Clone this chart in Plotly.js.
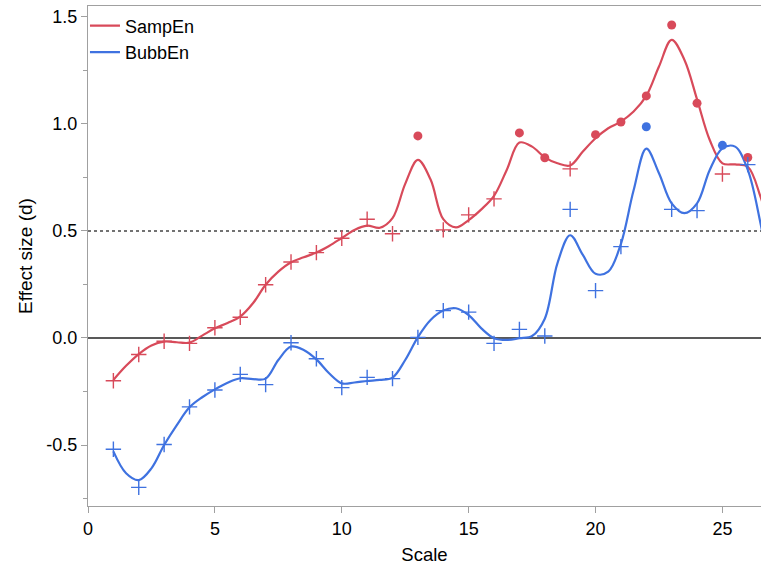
<!DOCTYPE html>
<html>
<head>
<meta charset="utf-8">
<script src="https://cdn.plot.ly/plotly-3.0.1.min.js"></script>
<style>
  html, body { margin: 0; padding: 0; background: #fff; }
  #chart { width: 761px; height: 567px; }
</style>
</head>
<body>
<div id="chart"></div>
<script>
// Effect size per scale for the two entropy measures
const scales = [1, 2, 3, 4, 5, 6, 7, 8, 9, 10, 11, 12, 13, 14, 15, 16, 17, 18, 19, 20, 21, 22, 23, 24, 25, 26];

const sampEn = [-0.200, -0.077, -0.015, -0.025, 0.048, 0.097, 0.249, 0.355, 0.399, 0.466,
                0.555, 0.487, 0.944, 0.505, 0.575, 0.650, 0.958, 0.842, 0.790, 0.950,
                1.009, 1.131, 1.462, 1.097, 0.766, 0.843];
// 1 = significant (filled dot), 0 = not significant (cross)
const sampSig = [0, 0, 0, 0, 0, 0, 0, 0, 0, 0, 0, 0, 1, 0, 0, 0, 1, 1, 0, 1, 1, 1, 1, 1, 0, 1];

const bubbEn = [-0.520, -0.698, -0.498, -0.322, -0.243, -0.170, -0.218, -0.022, -0.097, -0.232,
                -0.184, -0.190, 0.003, 0.128, 0.121, -0.025, 0.040, 0.009, 0.601, 0.221,
                0.427, 0.987, 0.601, 0.595, 0.900, 0.810];
const bubbSig = [0, 0, 0, 0, 0, 0, 0, 0, 0, 0, 0, 0, 0, 0, 0, 0, 0, 0, 0, 0, 0, 1, 0, 0, 1, 0];

// Smoothing-spline fits, sampled every half scale
const fitScale = [1, 1.5, 2, 2.5, 3, 3.5, 4, 4.5, 5, 5.5, 6, 6.5, 7, 7.5, 8, 8.5, 9, 9.5, 10, 10.5,
                  11, 11.5, 12, 12.5, 13, 13.5, 14, 14.5, 15, 15.5, 16, 16.5, 17, 17.5, 18, 18.5,
                  19, 19.5, 20, 20.5, 21, 21.5, 22, 22.5, 23, 23.5, 24, 24.5, 25, 25.5, 26, 26.5, 27];

const sampFit = [-0.196, -0.130, -0.075, -0.035, -0.017, -0.020, -0.022, 0.011, 0.045, 0.070,
                 0.100, 0.162, 0.249, 0.310, 0.354, 0.377, 0.399, 0.430, 0.467, 0.505,
                 0.525, 0.515, 0.560, 0.720, 0.832, 0.740, 0.555, 0.517, 0.551, 0.601,
                 0.664, 0.785, 0.913, 0.894, 0.844, 0.816, 0.806, 0.871, 0.933, 0.980,
                 1.011, 1.058, 1.131, 1.268, 1.393, 1.300, 1.115, 0.925, 0.816, 0.811,
                 0.800, 0.660, 0.450];

const bubbFit = [-0.530, -0.632, -0.664, -0.609, -0.500, -0.407, -0.324, -0.277, -0.240, -0.209,
                 -0.188, -0.192, -0.190, -0.103, -0.040, -0.056, -0.100, -0.165, -0.212, -0.208,
                 -0.201, -0.196, -0.185, -0.103, 0.004, 0.084, 0.128, 0.139, 0.107, 0.045,
                 -0.001, -0.009, -0.001, 0.009, 0.090, 0.350, 0.480, 0.388, 0.300, 0.310,
                 0.440, 0.690, 0.885, 0.770, 0.629, 0.583, 0.629, 0.785, 0.886, 0.894,
                 0.785, 0.536, 0.220];

const yTickVals = [-0.5, 0, 0.5, 1.0, 1.5];
const yTickText = ['-0.5', '0.0', '0.5', '1.0', '1.5'];
const xTickVals = [0, 5, 10, 15, 20, 25];

const RED = '#d84a5a';
const BLUE = '#3f72e0';
const FONT = 'Liberation Sans, Arial, sans-serif';

function pick(xs, ys, flags, want) {
  const x = [], y = [];
  xs.forEach((v, i) => { if (flags[i] === want) { x.push(v); y.push(ys[i]); } });
  return { x, y };
}

function crossTrace(pts, color) {
  return {
    x: pts.x, y: pts.y, type: 'scatter', mode: 'markers', showlegend: false, hoverinfo: 'x+y',
    marker: { symbol: 'cross-thin', size: 11, color: color, line: { color: color, width: 1.4 } }
  };
}
function dotTrace(pts, color) {
  return {
    x: pts.x, y: pts.y, type: 'scatter', mode: 'markers', showlegend: false, hoverinfo: 'x+y',
    marker: { symbol: 'circle', size: 9, color: color }
  };
}
function fitTrace(ys, name, color) {
  return {
    x: fitScale, y: ys, type: 'scatter', mode: 'lines', name: name,
    line: { color: color, width: 2.2, shape: 'spline', smoothing: 1 }
  };
}

const traces = [
  fitTrace(sampFit, 'SampEn', RED),
  fitTrace(bubbFit, 'BubbEn', BLUE),
  crossTrace(pick(scales, sampEn, sampSig, 0), RED),
  dotTrace(pick(scales, sampEn, sampSig, 1), RED),
  crossTrace(pick(scales, bubbEn, bubbSig, 0), BLUE),
  dotTrace(pick(scales, bubbEn, bubbSig, 1), BLUE)
];

const layout = {
  width: 761, height: 567,
  margin: { l: 88, r: 0, t: 6, b: 61 },
  paper_bgcolor: '#fff', plot_bgcolor: '#fff',
  font: { family: FONT, size: 18, color: '#000' },
  showlegend: true,
  legend: {
    x: -0.0045, y: 0.997, xanchor: 'left', yanchor: 'top',
    bgcolor: 'rgba(0,0,0,0)', font: { family: FONT, size: 18, color: '#000' },
    itemwidth: 30, tracegroupgap: 0
  },
  xaxis: {
    range: [0, 26.52], tickvals: xTickVals, ticks: 'outside', ticklen: 6, tickcolor: '#a0a0a0',
    showline: true, linecolor: '#a0a0a0', linewidth: 1, mirror: true,
    showgrid: false, zeroline: false,
    tickfont: { family: FONT, size: 18, color: '#000' },
    title: { text: 'Scale', font: { family: FONT, size: 18.5, color: '#000' }, standoff: 10 }
  },
  yaxis: {
    range: [-0.785, 1.551], tickvals: yTickVals, ticktext: yTickText,
    ticks: 'outside', ticklen: 6, tickcolor: '#a0a0a0',
    minor: { dtick: 0.25, tick0: 0, ticks: 'outside', ticklen: 4, tickcolor: '#a0a0a0', showgrid: false },
    showline: true, linecolor: '#a0a0a0', linewidth: 1,
    showgrid: false, zeroline: false,
    tickfont: { family: FONT, size: 18, color: '#000' },
    title: { text: 'Effect size (d)', font: { family: FONT, size: 19, color: '#000' }, standoff: 8 }
  },
  shapes: [
    { type: 'line', xref: 'paper', x0: 0, x1: 1, yref: 'y', y0: 0, y1: 0,
      line: { color: '#222', width: 1.3 }, layer: 'below' },
    { type: 'line', xref: 'paper', x0: 0, x1: 1, yref: 'y', y0: 0.5, y1: 0.5,
      line: { color: '#444', width: 1.5, dash: 'dot' }, layer: 'below' }
  ]
};

Plotly.newPlot('chart', traces, layout, { displayModeBar: false, staticPlot: true });
</script>
</body>
</html>
